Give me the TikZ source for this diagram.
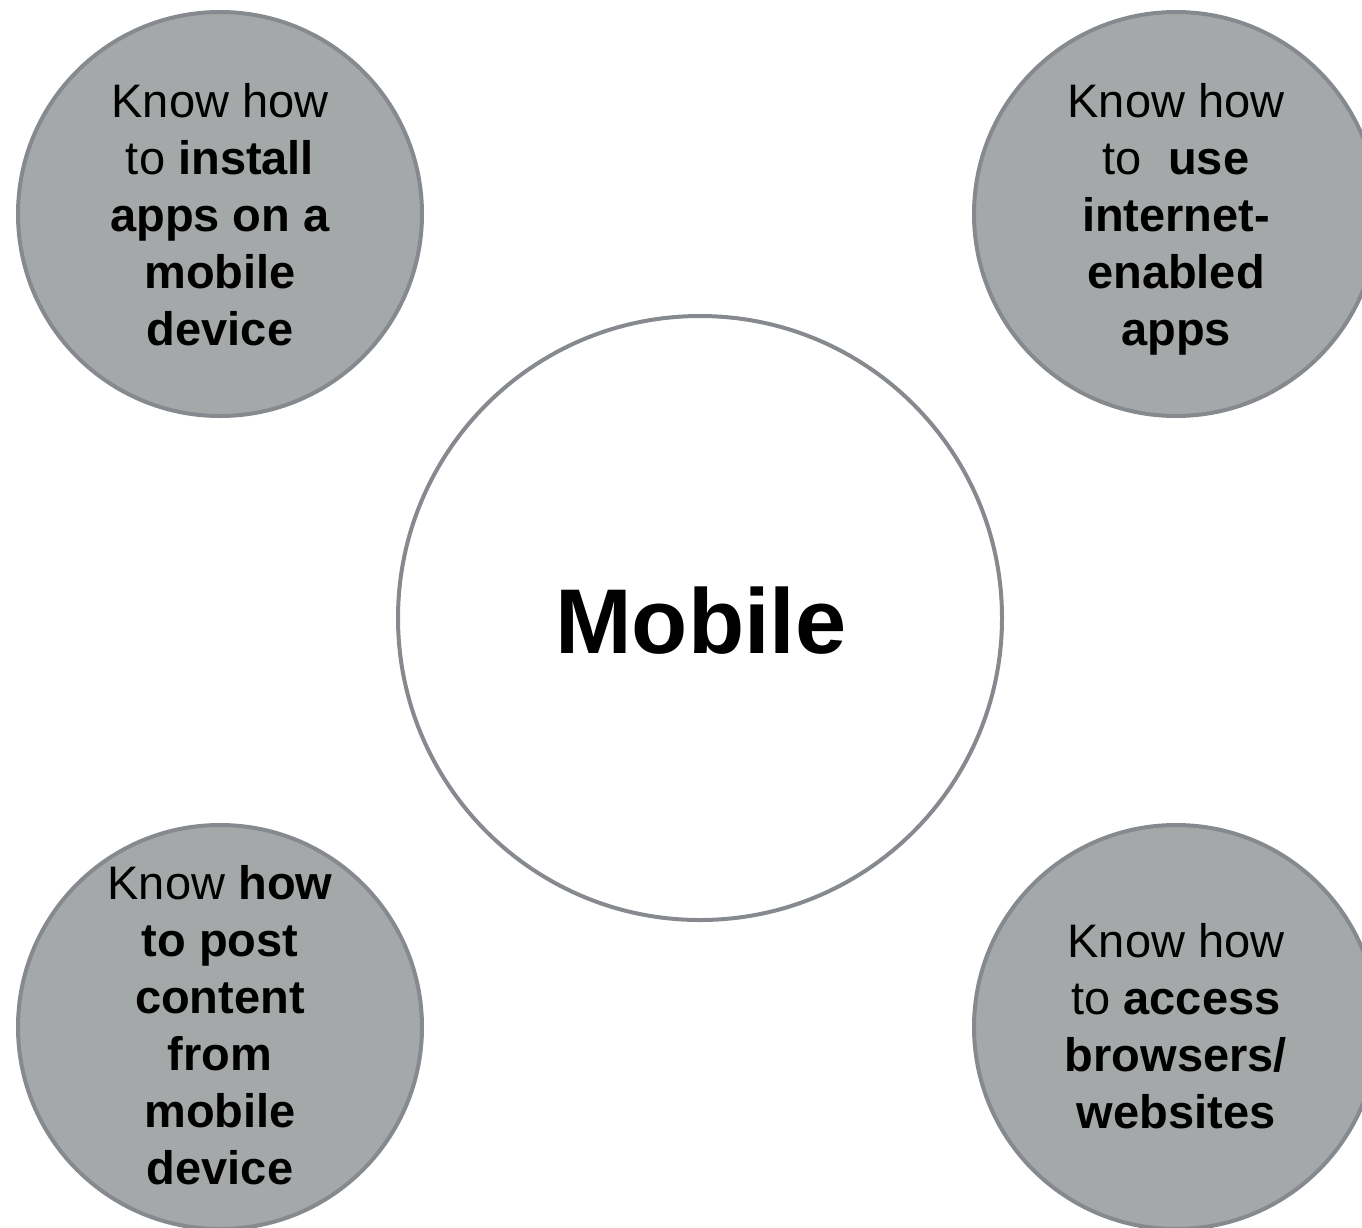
\documentclass[tikz,border=0pt]{standalone}
\usepackage{fontspec}
\setmainfont{Liberation Sans}
\definecolor{bubblefill}{RGB}{165,168,168}
\definecolor{bubbleline}{RGB}{134,138,143}
\begin{document}
\begin{tikzpicture}[x=1pt,y=-1pt,
  bubble/.style={circle,draw=bubbleline,line width=4pt,fill=bubblefill,minimum size=404pt,inner sep=0pt},
  hub/.style={circle,draw=bubbleline,line width=4pt,fill=white,minimum size=604pt,inner sep=0pt},
  bubbletext/.style={anchor=base,inner sep=0pt,font=\fontsize{47}{57}\selectfont}]
\useasboundingbox (0,0) rectangle (1362,1227);
\clip (0,0) rectangle (1362,1227);
% central circle
\node[hub] (hub) at (700,618) {};
\node[anchor=base,inner sep=0pt,font=\fontsize{92}{100}\selectfont\bfseries] (hubtext) at (701,653) {Mobile};
% four surrounding skill circles
\node[bubble] (tl) at (220,214) {};
\node[bubble] (tr) at (1176,214) {};
\node[bubble] (bl) at (220,1027) {};
\node[bubble] (br) at (1176,1027) {};
\node[bubbletext] (tltext) at (220,117) {\begin{tabular}[t]{@{}c@{}}Know how\\to \textbf{install}\\\textbf{apps on a}\\\textbf{mobile}\\\textbf{device}\end{tabular}};
\node[bubbletext] (trtext) at (1176,117) {\begin{tabular}[t]{@{}c@{}}Know how\\to \ \textbf{use}\\\textbf{internet-}\\\textbf{enabled}\\\textbf{apps}\end{tabular}};
\node[bubbletext] (bltext) at (220,899) {\begin{tabular}[t]{@{}c@{}}Know \textbf{how}\\\textbf{to post}\\\textbf{content}\\\textbf{from}\\\textbf{mobile}\\\textbf{device}\end{tabular}};
\node[bubbletext] (brtext) at (1176,957) {\begin{tabular}[t]{@{}c@{}}Know how\\to \textbf{access}\\\textbf{browsers/}\\\textbf{websites}\end{tabular}};
\end{tikzpicture}
\end{document}
